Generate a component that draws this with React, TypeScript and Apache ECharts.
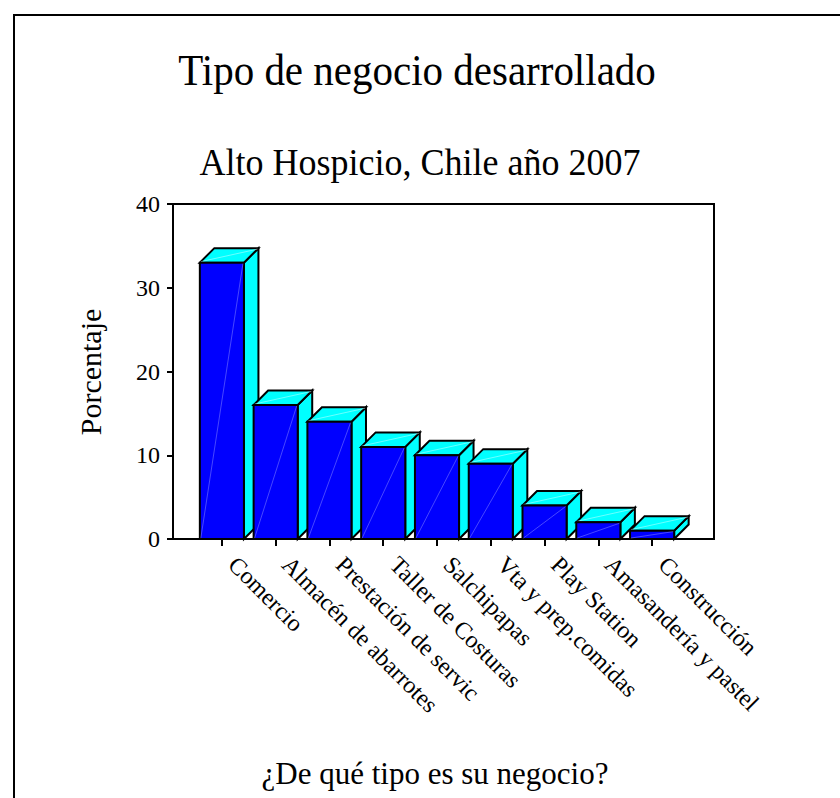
import React, { useEffect, useRef } from "react";
import * as echarts from "echarts";

const categories = [
  "Comercio",
  "Almacén de abarrotes",
  "Prestación de servic",
  "Taller de Costuras",
  "Salchipapas",
  "Vta y prep.comidas",
  "Play Station",
  "Amasandería y pastel",
  "Construcción",
];
const percentages = [33, 16, 14, 11, 10, 9, 4, 2, 1];
const yMin = 0;
const yMax = 40;
const yInterval = 10;

const titleText = "Tipo de negocio desarrollado";
const subtitleText = "Alto Hospicio, Chile año 2007";
const yName = "Porcentaje";
const xName = "¿De qué tipo es su negocio?";

const FONT = "'Liberation Serif', 'Times New Roman', serif";

export default function App() {
  const ref = useRef<HTMLDivElement>(null);
  useEffect(() => {
    document.body.style.margin = "0";
    const chart = echarts.init(ref.current!, undefined, { renderer: "svg" });
    const depth = 14.5;
    const option: any = {
      animation: false,
      backgroundColor: "#ffffff",
      textStyle: { fontFamily: FONT, color: "#000" },
      grid: [
        { left: 195, top: 204, width: 484, height: 335, show: false },
        {
          left: 173,
          top: 204,
          width: 541,
          height: 335,
          show: true,
          borderColor: "#000",
          borderWidth: 2,
          backgroundColor: "transparent",
        },
      ],
      xAxis: [
        {
          type: "category",
          gridIndex: 0,
          data: categories,
          boundaryGap: true,
          axisLine: { show: false },
          axisTick: {
            show: true,
            alignWithLabel: true,
            length: 7,
            lineStyle: { color: "#000", width: 2 },
          },
          axisLabel: {
            rotate: -45,
            interval: 0,
            margin: 28,
            verticalAlign: "bottom",
            padding: [0, 0, 0, 3],
            fontSize: 24,
            fontFamily: FONT,
            color: "#000",
          },
          splitLine: { show: false },
        },
        {
          type: "value",
          gridIndex: 1,
          show: false,
          min: 0,
          max: 1,
        },
      ],
      yAxis: [
        {
          type: "value",
          gridIndex: 1,
          min: yMin,
          max: yMax,
          interval: yInterval,
          axisLine: { show: true, lineStyle: { color: "#000", width: 2 } },
          axisTick: {
            show: true,
            inside: false,
            length: 6,
            lineStyle: { color: "#000", width: 2 },
          },
          axisLabel: {
            margin: 13,
            fontSize: 24,
            fontFamily: FONT,
            color: "#000",
          },
          splitLine: { show: false },
        },
        {
          type: "value",
          gridIndex: 0,
          min: yMin,
          max: yMax,
          interval: yInterval,
          show: false,
        },
      ],
      series: [
        {
          type: "custom",
          xAxisIndex: 0,
          yAxisIndex: 1,
          data: percentages.map((v, i) => [i, v]),
          renderItem: (params: any, api: any) => {
            const top = api.coord([api.value(0), api.value(1)]);
            const base = api.coord([api.value(0), 0]);
            const w = api.size([1, 0])[0] * 0.82;
            const xl = top[0] - w / 2;
            const xr = top[0] + w / 2;
            const yt = top[1];
            const yb = base[1];
            const d = depth;
            const stroke = "#000";
            const lw = 2;
            return {
              type: "group",
              children: [
                {
                  type: "polygon",
                  shape: {
                    points: [
                      [xr, yb],
                      [xr + d, yb - d],
                      [xr + d, yt - d],
                      [xr, yt],
                    ],
                  },
                  style: { fill: "#00ffff", stroke, lineWidth: lw, lineJoin: "miter" },
                },
                {
                  type: "polygon",
                  shape: {
                    points: [
                      [xl, yt],
                      [xl + d, yt - d],
                      [xr + d, yt - d],
                      [xr, yt],
                    ],
                  },
                  style: { fill: "#00ffff", stroke, lineWidth: lw, lineJoin: "miter" },
                },
                {
                  type: "line",
                  shape: { x1: xl + 1, y1: yt - 1, x2: xr + d - 1, y2: yt - d + 1 },
                  style: { stroke: "rgba(200,255,255,0.9)", lineWidth: 0.6 },
                },
                {
                  type: "rect",
                  shape: { x: xl, y: yt, width: w, height: yb - yt },
                  style: { fill: "#0000ff", stroke, lineWidth: lw },
                },
                {
                  type: "line",
                  shape: { x1: xl + 1, y1: yb - 1, x2: xr - 1, y2: yt + 1 },
                  style: { stroke: "rgba(150,150,255,0.8)", lineWidth: 0.6 },
                },
              ],
            };
          },
        },
      ],
      graphic: [
        {
          type: "rect",
          shape: { x: 14, y: 15, width: 1000, height: 1000 },
          style: { fill: "none", stroke: "#000", lineWidth: 2 },
          z: -1,
          silent: true,
        },
        {
          type: "text",
          x: 417,
          y: 70,
          scaleY: 1.1,
          style: {
            text: titleText,
            font: `41px ${FONT}`,
            fill: "#000",
            textAlign: "center",
            textVerticalAlign: "middle",
          },
        },
        {
          type: "text",
          x: 420,
          y: 162,
          scaleY: 1.05,
          style: {
            text: subtitleText,
            font: `36px ${FONT}`,
            fill: "#000",
            textAlign: "center",
            textVerticalAlign: "middle",
          },
        },
        {
          type: "text",
          x: 90,
          y: 372,
          rotation: Math.PI / 2,
          style: {
            text: yName,
            font: `30px ${FONT}`,
            fill: "#000",
            textAlign: "center",
            textVerticalAlign: "middle",
          },
        },
        {
          type: "text",
          x: 435,
          y: 773,
          style: {
            text: xName,
            font: `31px ${FONT}`,
            fill: "#000",
            textAlign: "center",
            textVerticalAlign: "middle",
          },
        },
      ],
    };
    chart.setOption(option);
    return () => chart.dispose();
  }, []);
  return <div ref={ref} style={{ width: 840, height: 798 }} />;
}
